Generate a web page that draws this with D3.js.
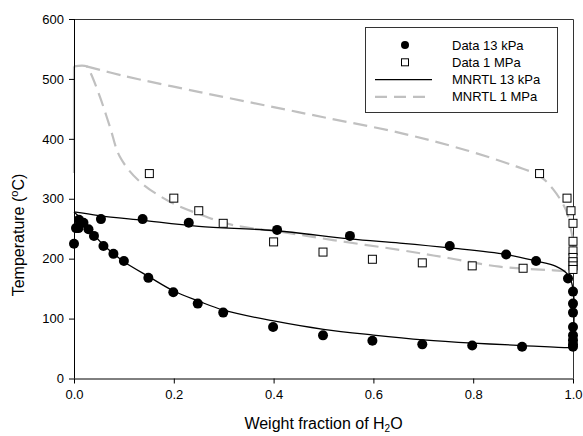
<!DOCTYPE html>
<html>
<head>
<meta charset="utf-8">
<script src="https://cdn.jsdelivr.net/npm/d3@7"></script>
<style>
    body { margin: 0; background: #fff; }
    text { font-family: "Liberation Sans", Arial, sans-serif; fill: #000; }
</style>
</head>
<body>
<script>
//chart data (weight fraction of water, temperature in C)
var data13W = [0, 0.004, 0.009, 0.01, 0.019, 0.029, 0.04, 0.054, 0.059, 0.079, 0.1, 0.1375, 0.149, 0.199, 0.23, 0.248,
    0.299, 0.399, 0.407, 0.499, 0.553, 0.598, 0.698, 0.753, 0.798, 0.866, 0.898, 0.926, 0.99,
    1, 1, 1, 1, 1, 1, 1, 1];
var data13T = [225, 251, 251, 265, 260, 249, 238, 266, 221, 208, 196, 266, 168, 144, 260, 125,
    110, 86, 248, 72, 238, 63, 57, 221, 55, 207, 53, 196, 167,
    145, 125, 110, 86, 72, 64, 57, 53];

var data1W = [0.151, 0.2, 0.25, 0.299, 0.4, 0.499, 0.598, 0.698, 0.798, 0.9, 0.933, 0.988, 0.996, 1, 1, 1, 1, 1, 1, 1];
var data1T = [342, 301, 280, 259, 228, 211, 199, 193, 188, 184, 342, 301, 280, 259, 229, 213, 202, 195, 188, 182];

//MNRTL 13 kPa model, upper and lower branch
var m13UpW = [0, 0.05, 0.1375, 0.25, 0.4, 0.553, 0.653, 0.753, 0.866, 0.926, 0.966, 0.99, 1, 1];
var m13UpT = [278, 272, 264, 254, 247, 233, 226, 218, 207, 196, 187, 173, 150, 53];
var m13LoW = [0, 0.02, 0.04, 0.06, 0.08, 0.1, 0.15, 0.2, 0.25, 0.3, 0.4, 0.5, 0.6, 0.7, 0.8, 0.9, 0.99, 1];
var m13LoT = [278, 262, 240, 222, 208, 195, 170, 146, 129, 114, 96, 82, 72.5, 64.5, 59, 55, 51.5, 51.5];

//MNRTL 1 MPa model
var m1UpW = [0.025, 0.1, 0.252, 0.4, 0.5, 0.653, 0.786, 0.886, 0.933, 0.96, 0.986, 0.996, 1, 1];
var m1UpT = [521, 505, 478, 453, 436, 410, 381, 354, 338, 316, 281, 248, 230, 184];
var m1LoW = [0, 0.025, 0.032, 0.052, 0.072, 0.092, 0.13, 0.192, 0.252, 0.319, 0.412, 0.519, 0.653, 0.753, 0.853, 0.953, 0.993, 1];
var m1LoT = [521, 521, 512, 470, 420, 370, 330, 295, 274, 256, 245, 231, 214.5, 200.7, 186.6, 181, 179.5, 180];
var m1EdgeW = [0, 0];
var m1EdgeT = [343, 521];

var xTicks = [0, 0.2, 0.4, 0.6, 0.8, 1.0];
var yTicks = [0, 100, 200, 300, 400, 500, 600];
var legendLabels = ["Data 13 kPa", "Data 1 MPa", "MNRTL 13 kPa", "MNRTL 1 MPa"];

(function(){
    var width = 583, height = 436;
    var left = 74, right = 573, top = 19, bottom = 378.5;
    var gray = "#c0c0c0";

    var svg = d3.select("body").append("svg")
        .attr("width", width)
        .attr("height", height);

    var x = d3.scaleLinear().domain([0, 1]).range([left, right]);
    var y = d3.scaleLinear().domain([0, 600]).range([bottom, top]);

    function pairs(ws, ts){
        return ws.map(function(w, i){ return [w, ts[i]]; });
    }

    var line = d3.line()
        .x(function(d){ return x(d[0]); })
        .y(function(d){ return y(d[1]); })
        .curve(d3.curveCatmullRom.alpha(0.5));

    //frame top and right
    svg.append("path")
        .attr("d", "M" + left + "," + (top + 0.5) + "H" + (right + 0.5) + "V" + bottom)
        .attr("fill", "none")
        .attr("stroke", "#333")
        .attr("stroke-width", 1);

    //model curves
    svg.append("path").datum(pairs(m1EdgeW, m1EdgeT))
        .attr("d", line).attr("fill", "none")
        .attr("stroke", gray).attr("stroke-width", 2.2);
    [pairs(m1UpW, m1UpT), pairs(m1LoW, m1LoT)].forEach(function(p){
        svg.append("path").datum(p)
            .attr("d", line).attr("fill", "none")
            .attr("stroke", gray).attr("stroke-width", 2.2)
            .attr("stroke-dasharray", "14,7");
    });
    [pairs(m13UpW, m13UpT), pairs(m13LoW, m13LoT)].forEach(function(p){
        svg.append("path").datum(p)
            .attr("d", line).attr("fill", "none")
            .attr("stroke", "#000").attr("stroke-width", 1.3);
    });

    //axes
    var xAxis = d3.axisBottom(x).tickValues(xTicks).tickFormat(d3.format(".1f")).tickSize(5).tickPadding(6);
    var yAxis = d3.axisLeft(y).tickValues(yTicks).tickSize(5).tickPadding(5);

    var gx = svg.append("g")
        .attr("transform", "translate(0," + bottom + ")")
        .call(xAxis);
    var gy = svg.append("g")
        .attr("transform", "translate(" + left + ",0)")
        .call(yAxis);
    [gx, gy].forEach(function(g){
        g.select(".domain").attr("stroke", "#000");
        g.selectAll("line").attr("stroke", "#000");
        g.selectAll("text").style("font-size", "13px").attr("fill", "#000")
            .style("font-family", "Liberation Sans, Arial, sans-serif");
    });
    gx.select(".domain").attr("d", "M" + left + ",0.5H" + right);
    gy.select(".domain").attr("d", "M0.5," + bottom + "V" + top);

    //data points
    svg.selectAll(".sq").data(pairs(data1W, data1T)).enter()
        .append("rect")
        .attr("x", function(d){ return x(d[0]) - 4; })
        .attr("y", function(d){ return y(d[1]) - 4; })
        .attr("width", 8).attr("height", 8)
        .attr("fill", "#fff").attr("stroke", "#000").attr("stroke-width", 1);

    svg.selectAll(".dot").data(pairs(data13W, data13T)).enter()
        .append("circle")
        .attr("cx", function(d){ return x(d[0]); })
        .attr("cy", function(d){ return y(d[1]); })
        .attr("r", 5)
        .attr("fill", "#000");

    //axis titles
    var xt = svg.append("text")
        .attr("x", (left + right) / 2)
        .attr("y", 429)
        .attr("text-anchor", "middle")
        .style("font-size", "16px");
    xt.append("tspan").text("Weight fraction of H");
    xt.append("tspan").text("2").attr("dy", 3).style("font-size", "10px");
    xt.append("tspan").text("O").attr("dy", -3);

    var yt = svg.append("text")
        .attr("transform", "translate(24,235) rotate(-90)")
        .attr("text-anchor", "middle")
        .style("font-size", "16px");
    yt.append("tspan").text("Temperature (");
    yt.append("tspan").text("o").attr("dy", -6).style("font-size", "11px");
    yt.append("tspan").text("C)").attr("dy", 6);

    //legend
    var legend = svg.append("g");
    legend.append("rect")
        .attr("x", 365.5).attr("y", 27.5)
        .attr("width", 192).attr("height", 85)
        .attr("fill", "#fff").attr("stroke", "#333").attr("stroke-width", 1);

    legendLabels.forEach(function(lab, i){
        var cy = 45 + i * 17.3;
        if (i == 0){
            legend.append("circle").attr("cx", 405).attr("cy", cy).attr("r", 4).attr("fill", "#000");
        } else if (i == 1){
            legend.append("rect").attr("x", 401.5).attr("y", cy - 3.5).attr("width", 7).attr("height", 7)
                .attr("fill", "#fff").attr("stroke", "#000");
        } else {
            legend.append("line").attr("x1", 375).attr("x2", 432).attr("y1", cy).attr("y2", cy)
                .attr("stroke", i == 2 ? "#000" : gray)
                .attr("stroke-width", i == 2 ? 1.3 : 2.2)
                .attr("stroke-dasharray", i == 2 ? null : "12,7");
        }
        legend.append("text")
            .attr("x", 452).attr("y", cy + 4.5)
            .style("font-size", "13px")
            .text(lab);
    });
})();
</script>
</body>
</html>
